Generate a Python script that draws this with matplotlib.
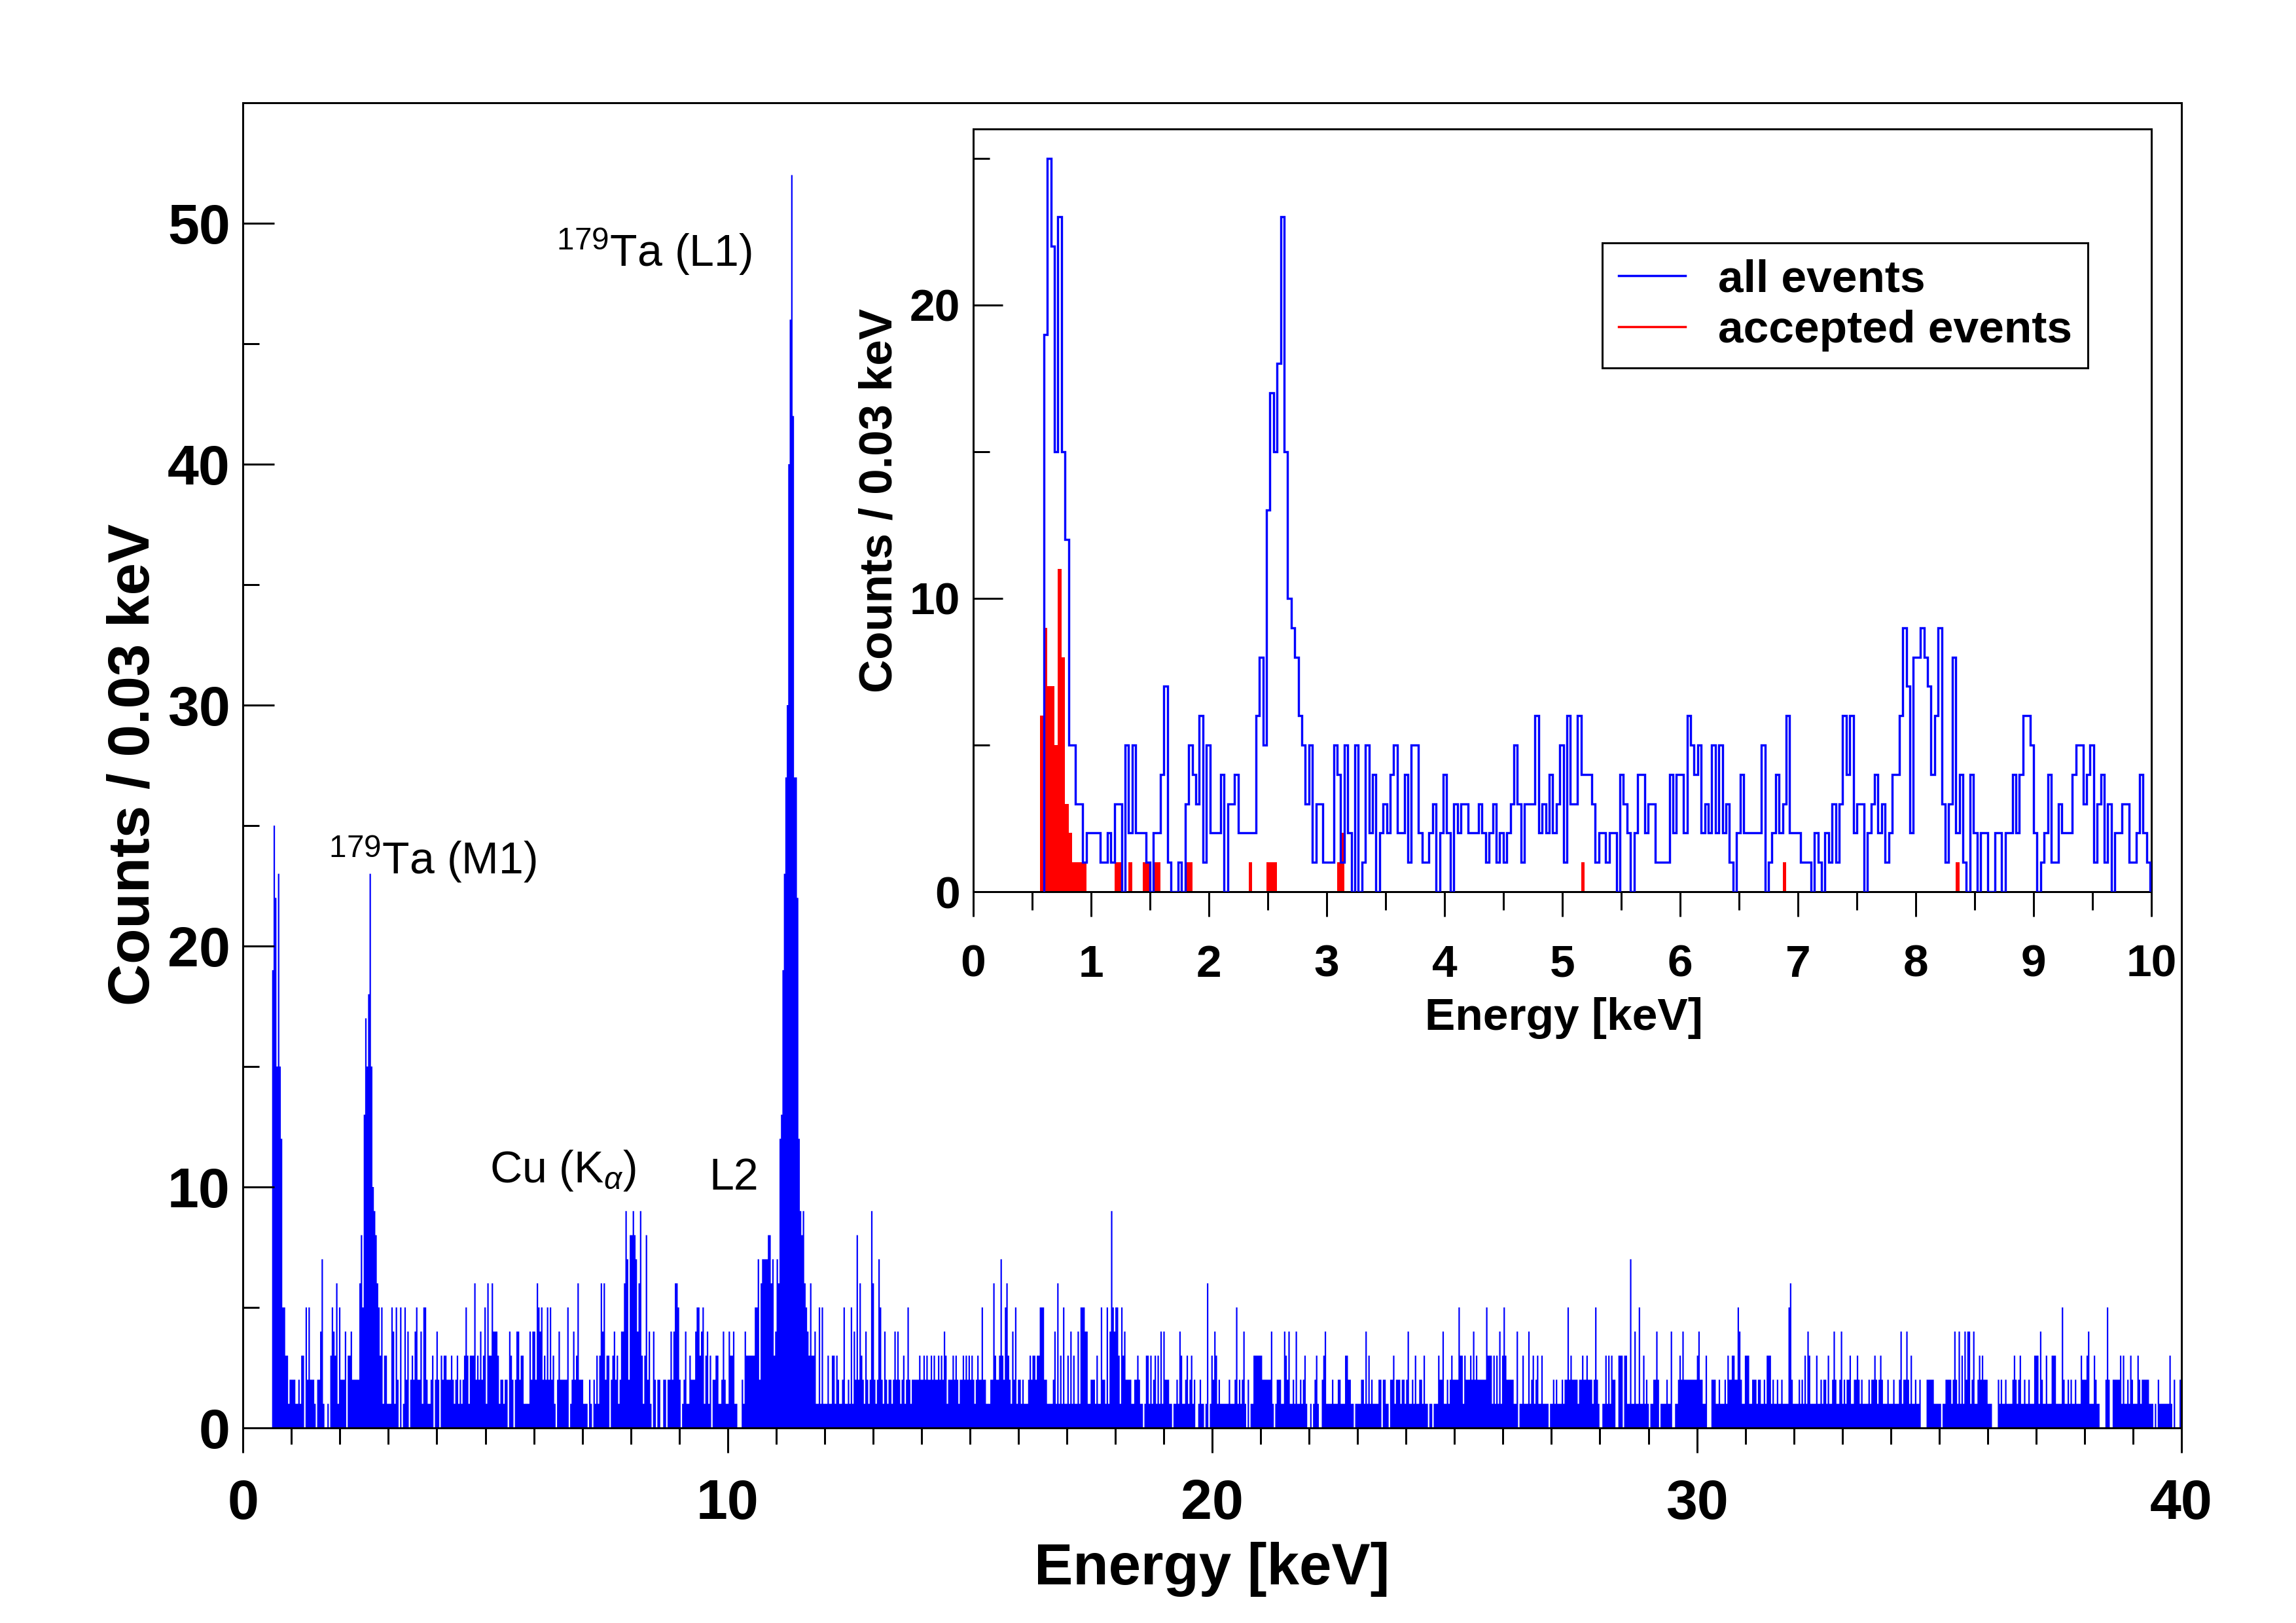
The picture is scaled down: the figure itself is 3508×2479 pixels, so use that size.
import numpy as np
import matplotlib
matplotlib.use("Agg")
import matplotlib.pyplot as plt
from matplotlib.lines import Line2D

plt.rcParams['font.family'] = ['Liberation Sans', 'DejaVu Sans']
plt.rcParams['mathtext.fontset'] = 'custom'
plt.rcParams['mathtext.rm'] = 'Liberation Sans'
plt.rcParams['mathtext.it'] = 'Liberation Sans:italic'
plt.rcParams['mathtext.bf'] = 'Liberation Sans:bold'

# ---------------- data ----------------
BIN_START = 0.60      # keV, first bin edge
BIN_WIDTH = 0.03      # keV

# all events, 0.60 - 9.99 keV (also shown in inset)
counts_low = [
    19,25,22,15,23,15,12,5,5,3, 3,1,2,2,2,2,1,1,2,1, 3,3,0,5,2,5,2,2,2,1, 0,2,2,4,7,1,0,0,1,0,
    3,5,4,3,6,1,5,2,2,2, 4,0,3,3,4,2,2,2,2,2, 6,8,5,13,17,15,18,23,15,10,
    9,8,6,5,3,5,1,3,3,1, 1,1,5,4,1,5,2,0,5,0, 1,5,2,4,0,2,
    3,2,4,5,2,2,4,1,5,5, 2,1,1,2,3,0,2,4,2,0, 3,2,3,3,2,2,2,3,2,1,
    2,3,1,2,1,2,3,5,3,1, 3,3,3,6,2,3,2,4,2,3, 5,1,6,3,3,6,4,4,4,3,
    1,2,2,1,2,2,0,4,3,2, 0,2,
    4,4,2,3,3,1,1,1,1,4, 2,4,4,2,6,5,4,5,2,3, 2,5,2,5,2,3,1,0,2,4,
    2,2,2,2,2,5,0,1,2,4, 2,3,6,2,2,2,1,1,1,0, 2,1,0,2,1,3,1,3,6,4,
    6,2,3,3,0,2,3,4,2,3, 1,2,4,4,
    6,9,7,2,8,8,9,8,7,4, 6,9,3,1,3,8,2,4,1,0, 4,2,0,2,2,0,0,2,2,0,
    2,2,4,2,4,6,6,5,2,0, 1,2,4,1,1,3,2,2,2,4, 5,5,3,4,5,1,3,4,1,3,
    0,2,2,3,3,1,1,2,4,2, 1,
]

# all events, 9.99 - 13.92 keV (L2 / L1 region)
counts_mid = [
    1,4,3,3,4,1,1,0,0,0,2,1,4,3,3,3,3,3,
    3,5,5,7,2,6,7,7,7,7,8,8,6,7,3,4,7,6,
    12,13,19,23,27,30,40,46,52,42,27,27,22,12,
    9,8,9,6,5,4,3,6,3,3,4,1,1,
    5,1,5,1,1,1,3,1,1,3,3,1,3,2,1,1,2,5,1,1,2,1,5,1,
    4,2,8,2,6,3,2,1,4,2,1,2,9,6,2,1,2,7,5,2,1,4,2,1,2,2,1,2,4,2,
    4,2,1,2,3,1,2,5,2,1,2,2,2,2,
]

# all events, 13.92 - 39.99 keV, one digit per bin
counts_high_blocks = [
    "23223232232" "32232324312" "22323212232",
    "32323212322" "52211122632" "23732563214",
    "25122121112" "32332335552" "21111241613",
    "15113141311" "41555441122" "21311522151",
    "49545531534" "22221122321" "10133131231",
    "31414222110" "11214311231" "23120012110",
    "16013243121" "11111211125" "12124102011",
    "33333322222" "24101222114" "32411214112",
    "12310010123" "10023411112" "11122111332",
    "21101111221" "41312111122" "02211022312",
    "22122124112" "13112213110" "11011132241",
    "12123222253" "31322232423" "22222253331",
    "31314135322" "22211401131" "11412312311",
    "31111011212" "11121225232" "22212232232",
    "22125210011" "31313220033" "30331171141",
    "15113121011" "22420111121" "14001123242",
    "22222222342" "21130002221" "12111213223",
    "32254211333" "11222122112" "13331211211",
    "21111562111" "12121314311" "11311212213",
    "11242112412" "12231122321" "21111212232",
    "12321112111" "21112412242" "13112112000",
    "02222211111" "01122221242" "14131424412",
    "41123232221" "11000021211" "21111232123",
    "11211211133" "31421131113" "33111152112",
    "12112111322" "23411132110" "00025200222",
    "22313112132" "11132122222" "11101021111",
    "11131020002",
]

# accepted events (bin index relative to BIN_START, count)
accepted_bin = [-1,0,1,2,3,4,5,6,7,8,9,10,11,20,21,24,28,29,31,32,40,41,58,63,64,65,83,84,152,209,258]
accepted_cnt = [6,9,7,7,5,11,8,3,2,1,1,1,1,1,1,1,1,1,1,1,1,1,1,1,1,1,1,2,1,1,1]

# labels
main_xticks = [0, 10, 20, 30, 40]
main_yticks = [0, 10, 20, 30, 40, 50]
inset_xticks = list(range(0, 11))
inset_yticks = [0, 10, 20]
legend_labels = ["all events", "accepted events"]

# ---------------- build arrays ----------------
high = [int(c) for blk in counts_high_blocks for c in blk]
all_counts = np.array(counts_low + counts_mid + high, dtype=float)
edges = BIN_START + BIN_WIDTH * np.arange(len(all_counts) + 1)

n_low = len(counts_low)
low_counts = np.array(counts_low, dtype=float)
low_edges = edges[:n_low + 1]

acc_offset = -min(accepted_bin)
acc = np.zeros(max(accepted_bin) + acc_offset + 1)
for b, c in zip(accepted_bin, accepted_cnt):
    acc[b + acc_offset] = c
acc_edges = BIN_START + BIN_WIDTH * (np.arange(len(acc) + 1) - acc_offset)

# ---------------- figure ----------------
W, H, DPI = 3508, 2479, 100
PT = 72.0 / DPI   # points per pixel
fig = plt.figure(figsize=(W / DPI, H / DPI), dpi=DPI, facecolor='white')

BLUE = '#0000ff'
RED = '#ff0000'

# main axes
mx0, mx1, my_top, my_bot = 371.3, 3333.0, 157.0, 2181.0
ax = fig.add_axes([mx0 / W, (H - my_bot) / H, (mx1 - mx0) / W, (my_bot - my_top) / H])
ax.stairs(all_counts, edges, fill=True, color=BLUE, linewidth=0)
ax.set_xlim(0, 40)
ax.set_ylim(0, 55)
ax.set_xticks(main_xticks)
ax.set_xticks(np.arange(0, 41, 1), minor=True)
ax.set_yticks(main_yticks)
ax.set_yticks(np.arange(0, 55, 5), minor=True)
ax.tick_params(axis='x', which='major', direction='out', length=38 * PT, width=3 * PT,
               pad=28, labelsize=62, top=False)
ax.tick_params(axis='x', which='minor', direction='out', length=25 * PT, width=3 * PT, top=False)
ax.tick_params(axis='y', which='major', direction='in', length=48 * PT, width=3 * PT,
               pad=14, labelsize=62, right=False)
ax.tick_params(axis='y', which='minor', direction='in', length=25 * PT, width=3 * PT, right=False)
for lab in ax.get_xticklabels() + ax.get_yticklabels():
    lab.set_fontweight('bold')
for s in ax.spines.values():
    s.set_linewidth(3 * PT)

fig.text(1852 / W, (H - 2420) / H, "Energy [keV]", ha='center', va='baseline',
         fontsize=64, fontweight='bold')
fig.text(205 / W, (H - 1168) / H, "Counts / 0.03 keV", ha='center', va='center',
         rotation=90, fontsize=64, fontweight='bold')

# annotations
ax.text(6.47, 48.2, r"$^{179}$Ta (L1)", fontsize=49, ha='left', va='baseline')
ax.text(1.77, 23.0, r"$^{179}$Ta (M1)", fontsize=49, ha='left', va='baseline')
ax.text(5.09, 10.2, r"Cu (K$_{\alpha}$)", fontsize=49, ha='left', va='baseline')
ax.text(9.62, 9.9, "L2", fontsize=49, ha='left', va='baseline')

# inset axes
ix0, ix1, iy_top, iy_bot = 1486.7, 3287.0, 197.0, 1362.0
ax2 = fig.add_axes([ix0 / W, (H - iy_bot) / H, (ix1 - ix0) / W, (iy_bot - iy_top) / H])
ax2.stairs(acc, acc_edges, fill=True, color=RED, linewidth=0, zorder=2)
ax2.stairs(low_counts, low_edges, color=BLUE, linewidth=3.4 * PT, zorder=3)
ax2.set_xlim(0, 10)
ax2.set_ylim(0, 26)
ax2.set_xticks(inset_xticks)
ax2.set_xticks(np.arange(0, 10.01, 0.5), minor=True)
ax2.set_yticks(inset_yticks)
ax2.set_yticks(np.arange(0, 26, 5), minor=True)
ax2.tick_params(axis='x', which='major', direction='out', length=38 * PT, width=3 * PT,
                pad=30, labelsize=50, top=False)
ax2.tick_params(axis='x', which='minor', direction='out', length=28 * PT, width=3 * PT, top=False)
ax2.tick_params(axis='y', which='major', direction='in', length=45 * PT, width=3 * PT,
                pad=14, labelsize=50, right=False)
ax2.tick_params(axis='y', which='minor', direction='in', length=25 * PT, width=3 * PT, right=False)
for lab in ax2.get_xticklabels() + ax2.get_yticklabels():
    lab.set_fontweight('bold')
for s in ax2.spines.values():
    s.set_linewidth(3 * PT)

fig.text(2389 / W, (H - 1573) / H, "Energy [keV]", ha='center', va='baseline',
         fontsize=50, fontweight='bold')
fig.text(1345 / W, (H - 765) / H, "Counts / 0.03 keV", ha='center', va='center',
         rotation=90, fontsize=51, fontweight='bold')

handles = [Line2D([], [], color=BLUE, lw=2.5), Line2D([], [], color=RED, lw=2.5)]
leg = ax2.legend(handles, legend_labels, loc='upper right',
                 bbox_to_anchor=((3190 - ix0) / (ix1 - ix0), (iy_bot - 371) / (iy_bot - iy_top)),
                 prop={'size': 50, 'weight': 'bold'}, frameon=True, fancybox=False,
                 edgecolor='black', framealpha=1, borderpad=0.35, handlelength=1.47,
                 handletextpad=0.72, borderaxespad=0, labelspacing=0.2)
leg.get_frame().set_linewidth(3 * PT)

fig.savefig("out.png", dpi=DPI, facecolor='white')
